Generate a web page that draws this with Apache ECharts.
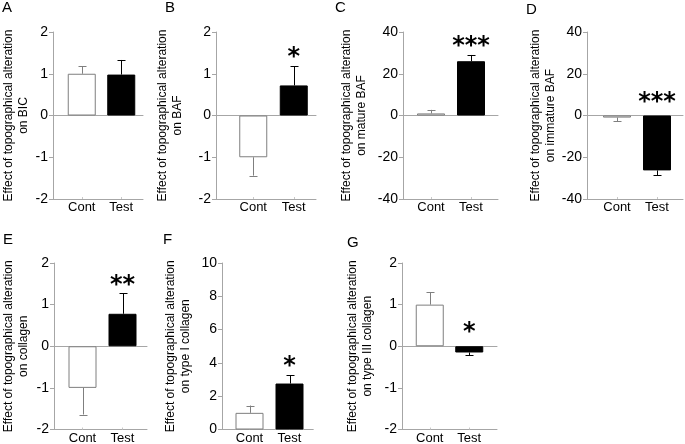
<!DOCTYPE html>
<html><head><meta charset="utf-8">
<script src="https://cdn.jsdelivr.net/npm/echarts@6/dist/echarts.min.js"></script>
<style>html,body{margin:0;padding:0;background:#fff}#c{width:685px;height:444px}</style>
</head><body><div id="c"></div>
<script>
// ---------- data ----------
const categories = ['Cont', 'Test'];
const panelLetters = ['A', 'B', 'C', 'D', 'E', 'F', 'G'];
const yTitles = [
  'Effect of topographical alteration\non BIC',
  'Effect of topographical alteration\non BAF',
  'Effect of topographical alteration\non mature BAF',
  'Effect of topographical alteration\non immature BAF',
  'Effect of topographical alteration\non collagen',
  'Effect of topographical alteration\non type I collagen',
  'Effect of topographical alteration\non type III collagen'
];
const yMins = [-2, -2, -40, -40, -2, 0, -2];
const yMaxs = [2, 2, 40, 40, 2, 10, 2];
const yIntervals = [1, 1, 20, 20, 1, 2, 1];
const meansA = [1.00, 0.98];   const errorsA = [0.18, 0.35];
const meansB = [-1.00, 0.72];  const errorsB = [0.44, 0.46];
const meansC = [1.0, 26.0];    const errorsC = [1.7, 3.0];
const meansD = [-1.0, -26.3];  const errorsD = [1.7, 2.4];
const meansE = [-1.00, 0.78];  const errorsE = [0.64, 0.49];
const meansF = [1.00, 2.76];   const errorsF = [0.44, 0.50];
const meansG = [1.00, -0.15];  const errorsG = [0.30, 0.07];
const significance = ['', '*', '***', '***', '**', '*', '*'];

const allMeans = [meansA, meansB, meansC, meansD, meansE, meansF, meansG];
const allErrors = [errorsA, errorsB, errorsC, errorsD, errorsE, errorsF, errorsG];

// ---------- layout (pixels) ----------
const layout = [
  { axisX: 53,  dataL: 62,    dataR: 141,   frameR: 143, top: 32,  h: 167,   titleX: 16,  letter: [2, 0] },
  { axisX: 216, dataL: 233,   dataR: 314,   frameR: 316, top: 32,  h: 167,   titleX: 170, letter: [165, 0] },
  { axisX: 403, dataL: 411,   dataR: 491,   frameR: 498, top: 32,  h: 167,   titleX: 354, letter: [335, 0] },
  { axisX: 587, dataL: 597,   dataR: 677,   frameR: 683, top: 32,  h: 167,   titleX: 543, letter: [526, 2] },
  { axisX: 54,  dataL: 62.5,  dataR: 142.5, frameR: 147, top: 263, h: 166.5, titleX: 16,  letter: [3, 232] },
  { axisX: 222, dataL: 229.5, dataR: 309.5, frameR: 313, top: 263, h: 166.5, titleX: 178, letter: [163, 232] },
  { axisX: 402, dataL: 410,   dataR: 489,   frameR: 497, top: 263, h: 166.5, titleX: 360, letter: [347, 235] }
];

const FONT = 'Liberation Sans, Arial, sans-serif';
const AXIS_GRAY = '#a6a6a6';
const grid = [], xAxis = [], yAxis = [], series = [], graphic = [];

layout.forEach((L, p) => {
  const fg = grid.length;
  grid.push({ left: L.axisX, top: L.top, width: L.frameR - L.axisX, height: L.h, containLabel: false, outerBoundsMode: 'none' });
  const dg = grid.length;
  grid.push({ left: L.dataL, top: L.top, width: L.dataR - L.dataL, height: L.h, containLabel: false, outerBoundsMode: 'none' });

  // frame grid axes: bottom line + zero line + visible y axis
  xAxis.push({ gridIndex: fg, type: 'value', min: 0, max: 1, position: 'bottom',
    axisLine: { show: true, onZero: false, lineStyle: { color: AXIS_GRAY, width: 1 } },
    axisTick: { show: false }, axisLabel: { show: false }, splitLine: { show: false } });
  xAxis.push({ gridIndex: fg, type: 'value', min: 0, max: 1, position: 'top',
    axisLine: { show: true, onZero: true, lineStyle: { color: AXIS_GRAY, width: 1 } },
    axisTick: { show: false }, axisLabel: { show: false }, splitLine: { show: false } });
  yAxis.push({ gridIndex: fg, type: 'value', min: yMins[p], max: yMaxs[p], interval: yIntervals[p],
    axisLine: { show: true, lineStyle: { color: AXIS_GRAY, width: 1 } },
    axisTick: { show: true, length: 4, lineStyle: { color: AXIS_GRAY } },
    axisLabel: { fontFamily: FONT, fontSize: 14, color: '#000', margin: 5 },
    splitLine: { show: false } });

  // data grid axes
  const dx = xAxis.length;
  xAxis.push({ gridIndex: dg, type: 'category', data: categories, position: 'bottom',
    axisLine: { show: false, onZero: false },
    axisTick: { show: true, inside: true, alignWithLabel: true, length: 2, lineStyle: { color: '#c8c8c8' } },
    axisLabel: { fontFamily: FONT, fontSize: 13, color: '#000', margin: 2 } });
  const dy = yAxis.length;
  yAxis.push({ gridIndex: dg, type: 'value', min: yMins[p], max: yMaxs[p], interval: yIntervals[p], show: false });

  const means = allMeans[p], errs = allErrors[p];
  series.push({
    type: 'bar', xAxisIndex: dx, yAxisIndex: dy, barWidth: 28, silent: true,
    data: means.map((v, i) => ({
      value: v,
      itemStyle: i === 0 ? { color: '#ffffff', borderColor: '#7f7f7f', borderWidth: 1 }
                         : { color: '#000000', borderColor: '#000000', borderWidth: 1 }
    }))
  });
  const sig = significance[p];
  series.push({
    type: 'custom', xAxisIndex: dx, yAxisIndex: dy, silent: true, z: 3,
    data: categories.map((c, i) => [c, means[i], errs[i]]),
    renderItem: (params, api) => {
      const idx = params.dataIndex;
      const m = api.value(1), e = api.value(2);
      const end = m >= 0 ? m + e : m - e;
      const p0 = api.coord([api.value(0), m]);
      const p1 = api.coord([api.value(0), end]);
      const col = idx === 0 ? '#7f7f7f' : '#000000';
      const x = Math.round(p0[0]) + 0.5;
      const children = [
        { type: 'line', shape: { x1: x, y1: p0[1], x2: x, y2: p1[1] }, style: { stroke: col, lineWidth: 1 } },
        { type: 'line', shape: { x1: x - 4, y1: Math.round(p1[1]) + 0.5, x2: x + 4, y2: Math.round(p1[1]) + 0.5 }, style: { stroke: col, lineWidth: 1 } }
      ];
      if (idx === 1 && sig) {
        const above = end > 0;
        const topY = api.coord([api.value(0), Math.max(end, 0)])[1];
        children.push({ type: 'text', style: { text: sig, x: p0[0], y: topY - (above ? 8 : 13), align: 'center', verticalAlign: 'middle',
          font: 'bold 24px "DejaVu Sans", sans-serif', fill: '#000' } });
      }
      return { type: 'group', children };
    }
  });

  // rotated two-line y-axis title, centred on the axis
  graphic.push({ type: 'text', x: L.titleX, y: L.top + L.h / 2, rotation: Math.PI / 2,
    style: { text: yTitles[p], align: 'center', verticalAlign: 'middle', lineHeight: 14.5,
      font: '12px "Liberation Sans", Arial, sans-serif', fill: '#000' } });
  graphic.push({ type: 'text', left: L.letter[0], top: L.letter[1],
    style: { text: panelLetters[p], font: '15px "Liberation Sans", Arial, sans-serif', fill: '#000' } });
});

const chart = echarts.init(document.getElementById('c'), null, { renderer: 'canvas' });
chart.setOption({ animation: false, backgroundColor: '#fff', grid, xAxis, yAxis, series, graphic });
</script>
</body></html>
